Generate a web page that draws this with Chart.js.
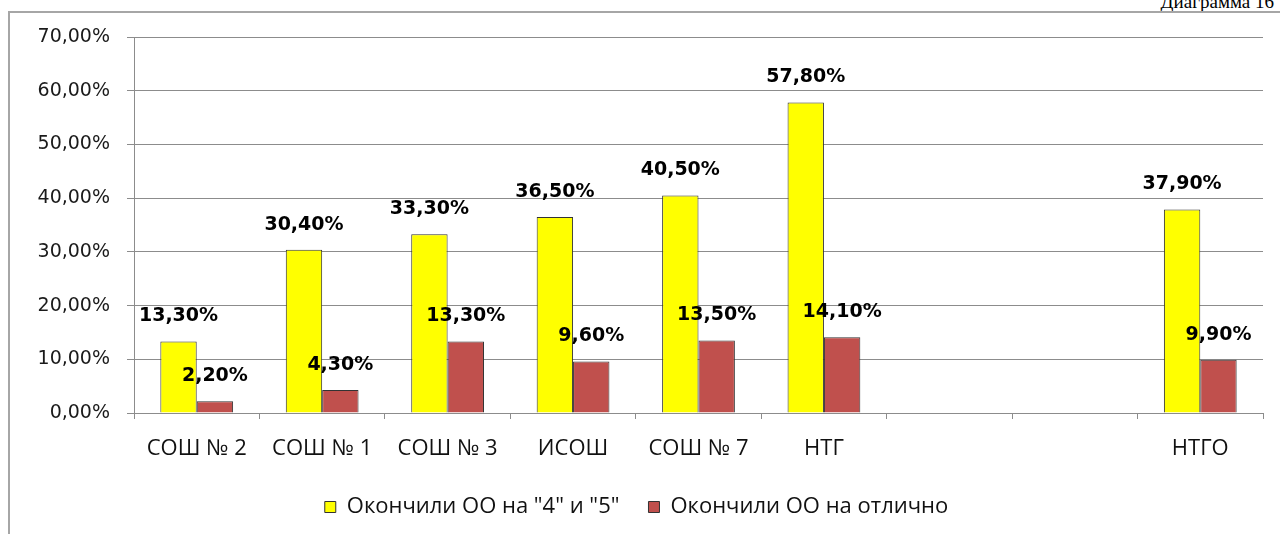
<!DOCTYPE html>
<html>
<head>
<meta charset="utf-8">
<script src="https://cdn.jsdelivr.net/npm/chart.js@4.4.1/dist/chart.umd.min.js"></script>
<style>
    html, body { margin: 0; padding: 0; background: #fff; overflow: hidden; }
    body { width: 1280px; height: 534px; position: relative; }
    #caption { position: absolute; right: 6px; top: -8px; font-family: "Liberation Serif", serif; font-size: 19px; line-height: 19px; color: #000; white-space: nowrap; }
    #box { position: absolute; left: 8px; top: 11px; width: 1289px; height: 540px; border: 2px solid #a6a6a6; }
</style>
</head>
<body>
<div id="caption">Диаграмма 16</div>
<div id="box"><canvas id="grafico"></canvas></div>
<script>
// категории (две пустые позиции перед НТГО, как в исходной диаграмме)
const categories = ["СОШ № 2", "СОШ № 1", "СОШ № 3", "ИСОШ", "СОШ № 7", "НТГ", "", "", "НТГО"];
const seriesNames = ['Окончили ОО на "4" и "5"', 'Окончили ОО на отлично'];
const good = [13.3, 30.4, 33.3, 36.5, 40.5, 57.8, null, null, 37.9];
const excellent = [2.2, 4.3, 13.3, 9.6, 13.5, 14.1, null, null, 9.9];
const yMax = 70;
const yStep = 10;

const fmt = v => v.toFixed(2).replace('.', ',') + '%';

// подписи значений над столбцами
const valueLabels = {
    id: 'valueLabels',
    afterDatasetsDraw(chart) {
        const ctx = chart.ctx;
        ctx.save();
        ctx.font = 'bold 19px "DejaVu Sans"';
        ctx.fillStyle = '#000';
        ctx.textAlign = 'center';
        ctx.textBaseline = 'middle';
        chart.data.datasets.forEach((ds, i) => {
            chart.getDatasetMeta(i).data.forEach((bar, j) => {
                const v = ds.data[j];
                if (v == null) return;
                ctx.fillText(fmt(v), bar.x, bar.y - 25);
            });
        });
        ctx.restore();
    }
};

new Chart(document.getElementById('grafico'), {
    type: 'bar',
    data: {
        labels: categories,
        datasets: [
            { label: seriesNames[0], data: good, backgroundColor: '#ffff00', borderColor: '#333', borderWidth: 1 },
            { label: seriesNames[1], data: excellent, backgroundColor: '#c0504d', borderColor: '#333', borderWidth: 1 }
        ]
    },
    options: {
        responsive: true,
        maintainAspectRatio: false,
        animation: false,
        categoryPercentage: 0.58,
        barPercentage: 1,
        layout: { padding: { top: 24, right: 36, bottom: 25, left: 0 } },
        plugins: {
            tooltip: { enabled: false },
            legend: {
                position: 'bottom',
                labels: {
                    boxWidth: 11,
                    boxHeight: 11,
                    padding: 29,
                    color: '#111',
                    font: { family: '"Open Sans"', size: 22 }
                }
            }
        },
        scales: {
            x: {
                afterFit: s => { s.height = 54; },
                grid: { drawOnChartArea: false, tickLength: 6, color: '#8c8c8c' },
                border: { color: '#8c8c8c', width: 1 },
                ticks: { padding: 17, color: '#111', maxRotation: 0, autoSkip: false, font: { family: '"Open Sans"', size: 22 } }
            },
            y: {
                min: 0,
                max: yMax,
                afterFit: s => { s.width = 124; s.paddingTop = 0; s.paddingBottom = 0; },
                grid: { color: '#8c8c8c', tickLength: 7 },
                border: { color: '#8c8c8c', width: 1 },
                ticks: { stepSize: yStep, padding: 17, color: '#1a1a1a', font: { family: '"DejaVu Sans"', size: 19 }, callback: v => fmt(v) }
            }
        }
    },
    plugins: [valueLabels]
});
</script>
</body>
</html>
